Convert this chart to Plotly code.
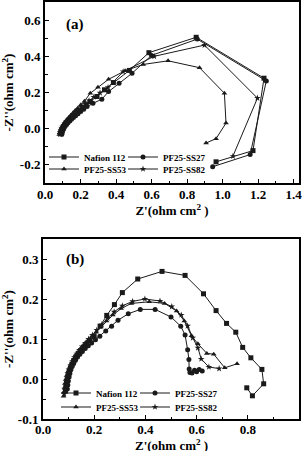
import plotly.graph_objects as go

# ---------------- data ----------------
series_names = ["Nafion 112", "PF25-SS27", "PF25-SS53", "PF25-SS82"]
series_symbols = ["square", "circle", "triangle-up", "star"]

# panel (a)
nafion_a_x = [0.090,0.092,0.095,0.100,0.105,0.111,0.118,0.126,0.135,0.145,0.156,0.168,0.181,0.196,0.213,0.232,0.255,0.293,0.335,0.385,0.475,0.585,0.851,1.233,1.171,0.963]
nafion_a_y = [-0.028,-0.018,-0.008,0.002,0.010,0.018,0.027,0.036,0.046,0.056,0.066,0.077,0.089,0.102,0.117,0.132,0.150,0.178,0.215,0.255,0.322,0.420,0.505,0.279,-0.121,-0.183]
ss27_a_x = [0.095,0.097,0.100,0.104,0.109,0.115,0.122,0.130,0.139,0.149,0.160,0.172,0.186,0.201,0.218,0.237,0.270,0.320,0.358,0.417,0.490,0.600,0.857,1.246,1.155,0.944]
ss27_a_y = [-0.030,-0.020,-0.010,-0.001,0.008,0.017,0.025,0.034,0.043,0.052,0.062,0.072,0.083,0.095,0.108,0.122,0.140,0.163,0.205,0.251,0.306,0.405,0.495,0.264,-0.143,-0.210]
ss53_a_x = [0.080,0.082,0.085,0.089,0.094,0.100,0.107,0.115,0.124,0.134,0.145,0.157,0.170,0.185,0.202,0.222,0.255,0.298,0.358,0.451,0.553,0.693,0.870,1.010,1.019,0.963,0.907]
ss53_a_y = [-0.032,-0.022,-0.012,-0.002,0.008,0.018,0.029,0.040,0.051,0.062,0.074,0.087,0.100,0.115,0.132,0.152,0.196,0.229,0.273,0.320,0.355,0.375,0.337,0.196,0.031,-0.055,-0.079]
ss82_a_x = [0.085,0.087,0.090,0.094,0.099,0.105,0.112,0.120,0.129,0.139,0.150,0.162,0.175,0.190,0.207,0.226,0.248,0.275,0.310,0.355,0.440,0.615,0.898,1.196,1.058]
ss82_a_y = [-0.030,-0.020,-0.010,0.000,0.010,0.019,0.029,0.039,0.049,0.059,0.070,0.081,0.093,0.106,0.121,0.137,0.155,0.175,0.198,0.228,0.315,0.400,0.462,0.169,-0.152]

# panel (b)
nafion_b_x = [0.088,0.090,0.092,0.095,0.098,0.102,0.107,0.113,0.120,0.128,0.137,0.147,0.158,0.170,0.184,0.200,0.223,0.249,0.279,0.310,0.370,0.465,0.555,0.627,0.676,0.717,0.753,0.780,0.812,0.855,0.862,0.818,0.796]
nafion_b_y = [-0.030,-0.020,-0.010,0.000,0.010,0.019,0.028,0.037,0.046,0.055,0.063,0.071,0.079,0.087,0.096,0.106,0.132,0.159,0.186,0.216,0.250,0.269,0.259,0.213,0.171,0.139,0.117,0.079,0.053,0.024,-0.012,-0.042,-0.022]
ss27_b_x = [0.095,0.097,0.099,0.102,0.105,0.109,0.114,0.120,0.127,0.135,0.144,0.154,0.165,0.177,0.190,0.205,0.222,0.245,0.268,0.293,0.333,0.380,0.438,0.500,0.538,0.555,0.565,0.570,0.571,0.574,0.582,0.592,0.600,0.610,0.622]
ss27_b_y = [-0.025,-0.015,-0.005,0.005,0.014,0.023,0.031,0.039,0.047,0.055,0.062,0.069,0.076,0.083,0.090,0.098,0.107,0.120,0.132,0.147,0.163,0.174,0.174,0.155,0.132,0.110,0.073,0.049,0.025,0.016,0.015,0.022,0.018,0.024,0.020]
ss53_b_x = [0.080,0.082,0.084,0.087,0.090,0.094,0.099,0.105,0.112,0.120,0.129,0.139,0.150,0.162,0.175,0.190,0.207,0.226,0.248,0.273,0.305,0.345,0.415,0.475,0.522,0.552,0.580,0.605,0.640,0.667,0.710,0.758]
ss53_b_y = [-0.043,-0.032,-0.021,-0.010,0.000,0.010,0.020,0.030,0.040,0.050,0.060,0.069,0.078,0.087,0.096,0.106,0.117,0.130,0.145,0.160,0.176,0.189,0.193,0.189,0.170,0.145,0.108,0.088,0.064,0.062,0.028,0.038]
ss82_b_x = [0.083,0.085,0.087,0.090,0.093,0.097,0.102,0.108,0.115,0.123,0.132,0.142,0.153,0.165,0.178,0.193,0.210,0.230,0.252,0.278,0.310,0.350,0.398,0.457,0.503,0.540,0.565,0.585,0.605,0.618,0.648,0.688]
ss82_b_y = [-0.038,-0.027,-0.016,-0.006,0.004,0.014,0.024,0.034,0.044,0.054,0.063,0.072,0.081,0.090,0.100,0.110,0.122,0.136,0.152,0.168,0.183,0.194,0.200,0.195,0.181,0.160,0.133,0.103,0.078,0.050,0.030,0.026]

# tick labels
a_xticks = [0.0, 0.2, 0.4, 0.6, 0.8, 1.0, 1.2, 1.4]
a_xticktext = ["0.0", "0.2", "0.4", "0.6", "0.8", "1.0", "1.2", "1.4"]
a_yticks = [-0.2, 0.0, 0.2, 0.4, 0.6]
a_yticktext = ["-0.2", "0.0", "0.2", "0.4", "0.6"]
b_xticks = [0.0, 0.2, 0.4, 0.6, 0.8, 1.0]
b_xticktext = ["0.0", "0.2", "0.4", "0.6", "0.8", "1.0"]
b_yticks = [-0.1, 0.0, 0.1, 0.2, 0.3]
b_yticktext = ["-0.1", "0.0", "0.1", "0.2", "0.3"]

panel_labels = ["(a)", "(b)"]
x_title = "Z'(ohm cm<sup>2</sup> )"
y_title = "-Z''(ohm cm<sup>2</sup>)"

# ---------------- figure ----------------
FONT = "Liberation Serif"
INK = "#1a1a1a"

W, H = 305, 451
ML, MR, MT, MB = 43, 6, 2, 32
PW, PH = W - ML - MR, H - MT - MB


def px2x(px):
    return (px - ML) / PW


def py2y(py):
    return 1 - (py - MT) / PH


fig = go.Figure()

panel_a = [(nafion_a_x, nafion_a_y), (ss27_a_x, ss27_a_y), (ss53_a_x, ss53_a_y), (ss82_a_x, ss82_a_y)]
panel_b = [(nafion_b_x, nafion_b_y), (ss27_b_x, ss27_b_y), (ss53_b_x, ss53_b_y), (ss82_b_x, ss82_b_y)]

# one single-entry legend per item so the 2x2 legend grid is exact
leg_ids_a = ["legend", "legend2", "legend3", "legend4"]
leg_ids_b = ["legend5", "legend6", "legend7", "legend8"]
# legend anchor (left px, centre py) per series
leg_pos_a = [(44, 157), (123, 157), (44, 169), (123, 169)]
leg_pos_b = [(56, 393), (135, 393), (56, 407), (135, 407)]

for i, (xs, ys) in enumerate(panel_a):
    fig.add_trace(go.Scatter(
        x=xs, y=ys, mode="lines+markers", name=series_names[i],
        line=dict(color=INK, width=1),
        marker=dict(symbol=series_symbols[i], size=5, color=INK, line=dict(width=0)),
        xaxis="x", yaxis="y", legend=leg_ids_a[i], showlegend=True))

for i, (xs, ys) in enumerate(panel_b):
    fig.add_trace(go.Scatter(
        x=xs, y=ys, mode="lines+markers", name=series_names[i],
        line=dict(color=INK, width=1),
        marker=dict(symbol=series_symbols[i], size=5, color=INK, line=dict(width=0)),
        xaxis="x2", yaxis="y2", legend=leg_ids_b[i], showlegend=True))

tickfont = dict(family=FONT, size=13, color="black", weight="bold")
titlefont = dict(family=FONT, size=13, color="black", weight="bold")


def axis_common():
    return dict(showline=True, linewidth=2, linecolor="black", mirror=True,
                ticks="inside", ticklen=4, tickwidth=1.2, tickcolor="black",
                showgrid=False, zeroline=False, tickfont=tickfont,
                automargin=False, tickmode="array")


fig.update_layout(
    width=W, height=H,
    showlegend=True,
    margin=dict(l=ML, r=MR, t=MT, b=MB),
    paper_bgcolor="white", plot_bgcolor="white",
    font=dict(family=FONT, color="black"),
    xaxis=dict(axis_common(), domain=[px2x(45), 1], range=[0, 1.43], anchor="y",
               tickvals=a_xticks, ticktext=a_xticktext, ticklabelstandoff=-2,
               minor=dict(dtick=0.1, tick0=0, ticks="inside", ticklen=2.5, tickcolor="black"),
               title=dict(text=x_title, font=titlefont, standoff=2)),
    yaxis=dict(axis_common(), domain=[py2y(183), 1], range=[-0.3, 0.7], anchor="x",
               tickvals=a_yticks, ticktext=a_yticktext,
               minor=dict(dtick=0.1, tick0=0, ticks="inside", ticklen=2.5, tickcolor="black"),
               title=dict(text=y_title, font=titlefont, standoff=4)),
    xaxis2=dict(axis_common(), domain=[0, 1], range=[0, 1.0], anchor="y2",
                tickvals=b_xticks, ticktext=b_xticktext, ticklabelstandoff=-3,
                minor=dict(dtick=0.1, tick0=0, ticks="inside", ticklen=2.5, tickcolor="black")),
    yaxis2=dict(axis_common(), domain=[0, py2y(239)], range=[-0.1, 0.35], anchor="x2",
                tickvals=b_yticks, ticktext=b_yticktext,
                minor=dict(dtick=0.05, tick0=0, ticks="inside", ticklen=2.5, tickcolor="black"),
                title=dict(text=y_title, font=titlefont, standoff=4)),
)

legfont = dict(family=FONT, size=9, color="black", weight="bold")
leg_common = dict(orientation="h", xanchor="left", yanchor="middle",
                  bgcolor="rgba(0,0,0,0)", borderwidth=0, font=legfont,
                  itemwidth=30)
legend_layout = {}
for lid, (lx, ly) in zip(leg_ids_a + leg_ids_b, leg_pos_a + leg_pos_b):
    legend_layout[lid] = dict(leg_common, x=px2x(lx), y=py2y(ly), visible=True)
fig.update_layout(**legend_layout)

label_pos = [(75, 24), (75, 259)]
for txt, (lx, ly) in zip(panel_labels, label_pos):
    fig.add_annotation(text=txt, x=px2x(lx), y=py2y(ly), xref="paper", yref="paper",
                       xanchor="center", yanchor="middle", showarrow=False,
                       font=dict(family=FONT, size=15, color="black", weight="bold"))

# x-axis title of panel (b), just under its tick labels at the page bottom
fig.add_annotation(text=x_title, x=0.5, y=py2y(435), xref="paper", yref="paper",
                   xanchor="center", yanchor="top", showarrow=False,
                   font=titlefont)

fig.write_html("out.html")
